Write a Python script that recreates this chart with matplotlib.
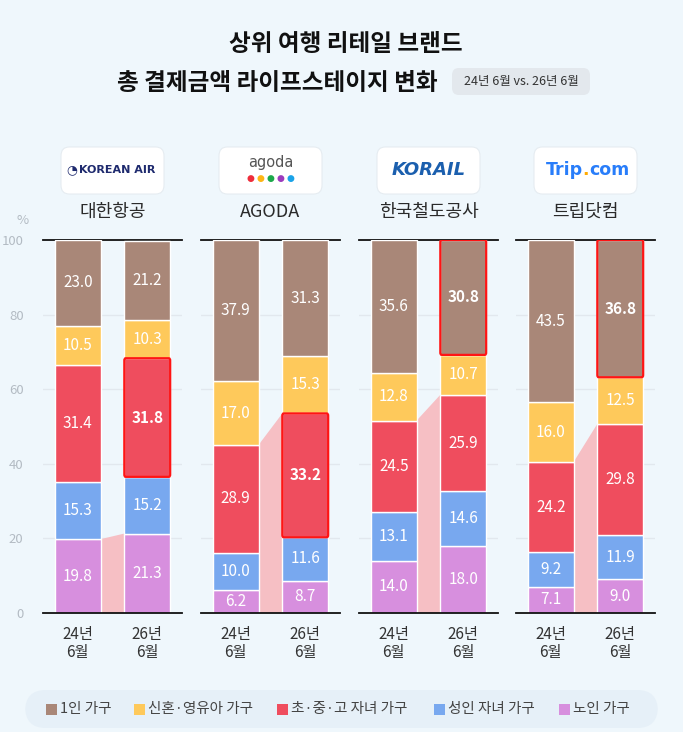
import matplotlib.pyplot as plt
from matplotlib.patches import Rectangle, FancyBboxPatch, Polygon

plt.rcParams['font.family'] = ['Noto Sans CJK KR', 'DejaVu Sans']

# Data
brands = ['대한항공', 'AGODA', '한국철도공사', '트립닷컴']
periods = ['24년\n6월', '26년\n6월']
# stacking order from bottom to top
groups = ['노인 가구', '성인 자녀 가구', '초·중·고 자녀 가구', '신혼·영유아 가구', '1인 가구']
legend_order = ['1인 가구', '신혼·영유아 가구', '초·중·고 자녀 가구', '성인 자녀 가구', '노인 가구']

korean_air = [[19.8, 15.3, 31.4, 10.5, 23.0], [21.3, 15.2, 31.8, 10.3, 21.2]]
agoda = [[6.2, 10.0, 28.9, 17.0, 37.9], [8.7, 11.6, 33.2, 15.3, 31.3]]
korail = [[14.0, 13.1, 24.5, 12.8, 35.6], [18.0, 14.6, 25.9, 10.7, 30.8]]
trip = [[7.1, 9.2, 24.2, 16.0, 43.5], [9.0, 11.9, 29.8, 12.5, 36.8]]
values = [korean_air, agoda, korail, trip]

highlight = [2, 2, 4, 4]       # highlighted segment of the 26년 bar
connect_n = [1, 3, 3, 3]       # number of bottom segments bridged by the pink band

colors = {'노인 가구': '#d78fde', '성인 자녀 가구': '#78a8ef', '초·중·고 자녀 가구': '#ef4d5e',
          '신혼·영유아 가구': '#fec95b', '1인 가구': '#a98778'}
bg = '#eff7fc'

fig = plt.figure(figsize=(6.83, 7.32), dpi=100, facecolor=bg)
W, H = 683, 732
renderer = fig.canvas.get_renderer()

def fx(px):
    return px / W

def fy(py):
    return 1 - py / H

def text_run(x_px, y_px, parts, **kw):
    # draw pieces of text side by side, starting at x_px
    x = x_px
    for s, c in parts:
        t = fig.text(fx(x), fy(y_px), s, ha='left', va='center', color=c, **kw)
        x += t.get_window_extent(renderer).width
    return x

# Title
fig.text(fx(346), fy(44), '상위 여행 리테일 브랜드', ha='center', va='center',
         fontsize=17, fontweight='bold', color='#111111')
fig.text(fx(438), fy(83), '총 결제금액 라이프스테이지 변화', ha='right', va='center',
         fontsize=17, fontweight='bold', color='#111111')
fig.patches.append(FancyBboxPatch((fx(452), fy(95)), fx(138), 27 / H,
                                  boxstyle='round,pad=0,rounding_size=0.01',
                                  transform=fig.transFigure, facecolor='#e3e8ed', edgecolor='none'))
fig.text(fx(521), fy(82), '24년 6월 vs. 26년 6월', ha='center', va='center',
         fontsize=9, color='#333333')

panel_left = [43, 201, 359, 516]
bar_w = 0.66

for i, brand in enumerate(brands):
    ax = fig.add_axes([fx(panel_left[i]), fy(613), fx(139), 373 / H])
    ax.set_facecolor('none')
    ax.set_xlim(-0.5, 1.5)
    ax.set_ylim(0, 100)
    for s in ax.spines.values():
        s.set_visible(False)
    for g in [20, 40, 60, 80]:
        ax.axhline(g, color='#e2e8ee', lw=1, zorder=0)
    ax.axhline(0, color='#111111', lw=1.3, zorder=5, clip_on=False)
    ax.axhline(100, color='#111111', lw=1.3, zorder=0, clip_on=False)

    # pink band between the bars
    lo = sum(values[i][0][:connect_n[i]])
    hi = sum(values[i][1][:connect_n[i]])
    x0 = bar_w / 2
    x1 = 1 - bar_w / 2
    ax.add_patch(Polygon([(x0, 0), (x0, lo), (x1, hi), (x1, 0)], closed=True,
                         facecolor='#f6bfc4', edgecolor='none', zorder=1))

    for j in range(2):
        bottom = 0
        for k, g in enumerate(groups):
            v = values[i][j][k]
            ax.bar(j, v, bottom=bottom, width=bar_w, color=colors[g],
                   edgecolor='white', linewidth=1, zorder=2)
            bold = (j == 1 and k == highlight[i])
            ax.text(j, bottom + v / 2, f'{v:.1f}', ha='center', va='center',
                    color='white', fontsize=11, fontweight='bold' if bold else 'normal', zorder=4)
            if bold:
                ax.add_patch(FancyBboxPatch((j - bar_w / 2, bottom), bar_w, v,
                                            boxstyle='round,pad=0,rounding_size=0.02',
                                            facecolor='none', edgecolor='#ff1414', lw=1.6, zorder=3,
                                            mutation_aspect=30))
            bottom += v

    ax.set_xticks([0, 1])
    ax.set_xticklabels(periods, fontsize=11, color='#333333', linespacing=1.1, fontweight='medium')
    ax.tick_params(axis='x', length=0, pad=9)
    if i == 0:
        ax.set_yticks([0, 20, 40, 60, 80, 100])
        ax.tick_params(axis='y', length=0, labelsize=9.5, labelcolor='#b3bbc3', pad=14)
        fig.text(fx(23), fy(221), '%', ha='center', va='center', fontsize=9.5, color='#b3bbc3')
    else:
        ax.set_yticks([])

    # logo box and brand name
    cx = panel_left[i] + 69.5
    fig.patches.append(FancyBboxPatch((fx(cx - 51.5), fy(194)), fx(103), 47 / H,
                                      boxstyle='round,pad=0,rounding_size=0.012',
                                      transform=fig.transFigure, facecolor='white',
                                      edgecolor='#e6ecf1', lw=0.8))
    fig.text(fx(cx), fy(212), brand, ha='center', va='center', fontsize=13, color='#2a2a2a')

# logos drawn as text
c0 = panel_left[0] + 69.5
fig.text(fx(c0 - 41), fy(170), '◔', ha='center', va='center', fontsize=9, color='#1e2a6e',
         family=['DejaVu Sans'])
fig.text(fx(c0 + 5), fy(170), 'KOREAN AIR', ha='center', va='center', fontsize=8,
         fontweight='bold', color='#1e2a6e', family=['DejaVu Sans'])
c1 = panel_left[1] + 69.5
fig.text(fx(c1), fy(163), 'agoda', ha='center', va='center', fontsize=10.5, color='#555555',
         family=['DejaVu Sans'])
for n, dc in enumerate(['#ee2d3b', '#fdb515', '#1ca94a', '#9c3bbd', '#1aa3e8']):
    fig.text(fx(c1 - 20 + n * 10), fy(179), '●', ha='center', va='center', fontsize=6.5,
             color=dc, family=['DejaVu Sans'])
c2 = panel_left[2] + 69.5
fig.text(fx(c2), fy(170), 'KORAIL', ha='center', va='center', fontsize=13, fontweight='bold',
         style='italic', color='#1b5fae', family=['DejaVu Sans'])
c3 = panel_left[3] + 69.5
text_run(c3 - 40, 170, [('Trip', '#287dfa'), ('.', '#ffaa00'), ('com', '#287dfa')],
         fontsize=12.5, fontweight='bold', family=['DejaVu Sans'])

# legend
fig.patches.append(FancyBboxPatch((fx(25), fy(728)), fx(633), 38 / H,
                                  boxstyle='round,pad=0,rounding_size=0.03',
                                  transform=fig.transFigure, facecolor='#e6f0f8', edgecolor='none'))
leg_x = [46, 134, 277, 434, 559]
for name, lx in zip(legend_order, leg_x):
    fig.patches.append(Rectangle((fx(lx), fy(715)), fx(11), 11 / H, transform=fig.transFigure,
                                 facecolor=colors[name], edgecolor='none'))
    fig.text(fx(lx + 14), fy(709.5), name, ha='left', va='center', fontsize=10.5, color='#444444')

fig.savefig('out.png', dpi=100, facecolor=bg)
